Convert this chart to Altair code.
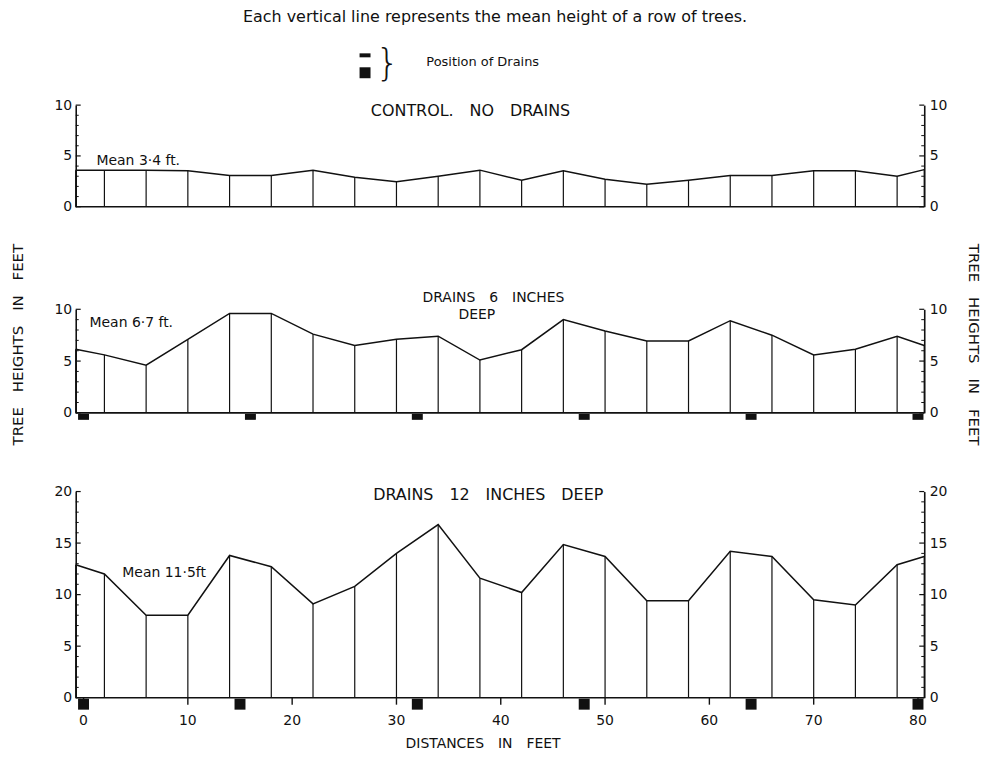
import altair as alt
import pandas as pd

# ---------------- data ----------------
ROW_X = [-0.75, 2, 6, 10, 14, 18, 22, 26, 30, 34, 38, 42, 46, 50, 54, 58,
         62, 66, 70, 74, 78, 80.6]
CONTROL = [3.6, 3.6, 3.6, 3.55, 3.07, 3.07, 3.6, 2.9, 2.45, 3.0, 3.6, 2.6,
           3.55, 2.7, 2.2, 2.6, 3.07, 3.07, 3.55, 3.55, 3.0, 3.65]
SIX_INCH = [6.15, 5.6, 4.6, 7.1, 9.6, 9.6, 7.6, 6.5, 7.1, 7.4, 5.1, 6.1,
            9.0, 7.9, 6.95, 6.95, 8.9, 7.5, 5.6, 6.15, 7.4, 6.5]
TWELVE_INCH = [12.9, 12.0, 8.0, 8.0, 13.8, 12.7, 9.1, 10.8, 14.0, 16.8, 11.6,
               10.2, 14.85, 13.7, 9.4, 9.4, 14.2, 13.7, 9.5, 9.0, 12.9, 13.7]
DRAINS_6 = [0, 16, 32, 48, 64, 80]
DRAINS_12 = [0, 15, 32, 48, 64, 80]
X_TICKS = [0, 10, 20, 30, 40, 50, 60, 70, 80]

SP = "\u2003"  # wide word gap, as in the letter-spaced original
HEADER = "Each vertical line represents the mean height of a row of trees."
LEGEND_TEXT = "Position of Drains"
Y_TITLE = SP.join(["TREE", "HEIGHTS", "IN", "FEET"])
X_TITLE = SP.join(["DISTANCES", "IN", "FEET"])

TITLES_A = [(SP.join(["CONTROL.", "NO", "DRAINS"]), 37.1, 8.95)]
TITLES_B = [(SP.join(["DRAINS", "6", "INCHES"]), 39.3, 10.75),
            ("DEEP", 37.7, 9.1)]
TITLES_C = [(SP.join(["DRAINS", "12", "INCHES", "DEEP"]), 38.8, 19.16)]
MEAN_A = [("Mean 3·4 ft.", 1.24, 4.15)]
MEAN_B = [("Mean 6·7 ft.", 0.57, 8.27)]
MEAN_C = [("Mean 11·5ft", 3.72, 11.74)]

# ---------------- styling ----------------
XMIN, XMAX = -0.75, 80.6
W = 852
FONT = "DejaVu Sans"
INK = "#111111"


def xscale():
    return alt.Scale(domain=[XMIN, XMAX], nice=False, zero=False)


def panel(values, ymax, height, top_pad, titles, mean, title_size=16,
          drains=None, drain_h=0, bottom_axis=False, side_titles=False,
          extra=None):
    def ys():
        return alt.Scale(domain=[0, ymax], range=[height, top_pad],
                         nice=False, zero=True)

    def X(field):
        return alt.X(field, scale=xscale(), axis=None)

    def Y(field):
        return alt.Y(field, scale=ys(), axis=None)

    rows = pd.DataFrame({"x": ROW_X, "y": values})
    ticks = pd.DataFrame({"v": list(range(0, ymax + 1))})
    ticks["major"] = ticks["v"] % 5 == 0
    minor = ticks[~ticks["major"]]
    major = ticks[ticks["major"]]

    yvals = [v for v in [0, 5, 10, 15, 20] if v <= ymax]
    laxis_kw = dict(values=yvals, ticks=False, tickSize=0, grid=False,
                    domainColor=INK, domainWidth=1.6, labelFont=FONT,
                    labelFontSize=14, labelColor=INK)
    if side_titles:
        common = dict(titleFont=FONT, titleFontSize=15,
                      titleFontWeight="normal", titleColor=INK,
                      titleAlign="center", titleBaseline="middle",
                      titleY=59)
        laxis = alt.Axis(orient="left", labelPadding=4, title=Y_TITLE,
                         titleAngle=270, titleX=-58, **common, **laxis_kw)
        raxis = alt.Axis(orient="right", labelPadding=5, title=Y_TITLE,
                         titleAngle=90, titleX=49, **common, **laxis_kw)
    else:
        laxis = alt.Axis(orient="left", labelPadding=4, title=None,
                         **laxis_kw)
        raxis = alt.Axis(orient="right", labelPadding=5, title=None,
                         **laxis_kw)

    # first layer carries the left y axis
    verticals = alt.Chart(rows).mark_rule(color=INK, strokeWidth=1.2).encode(
        x=X("x:Q"),
        y=alt.Y("y:Q", scale=ys(), axis=laxis),
        y2=alt.datum(0),
    )
    base = alt.Chart(pd.DataFrame({"z": [0]})).mark_rule(
        color=INK, strokeWidth=1.6).encode(
        x=alt.value(0), x2=alt.value(W), y=Y("z:Q"))
    line = alt.Chart(rows).mark_line(color=INK, strokeWidth=1.5).encode(
        x=X("x:Q"), y=Y("y:Q"))
    lt_minor = alt.Chart(minor).mark_rule(color=INK, strokeWidth=1).encode(
        x=alt.value(0), x2=alt.value(3), y=Y("v:Q"))
    lt_major = alt.Chart(major).mark_rule(color=INK, strokeWidth=1.2).encode(
        x=alt.value(0), x2=alt.value(5), y=Y("v:Q"))
    rt_minor = alt.Chart(minor).mark_rule(color=INK, strokeWidth=1).encode(
        x=alt.value(W - 3), x2=alt.value(W), y=Y("v:Q"))

    tdf = pd.DataFrame(titles, columns=["t", "x", "y"])
    title_txt = alt.Chart(tdf).mark_text(
        font=FONT, fontSize=title_size, color=INK, align="center",
        baseline="alphabetic").encode(x=X("x:Q"), y=Y("y:Q"), text="t:N")
    mdf = pd.DataFrame(mean, columns=["t", "x", "y"])
    mean_txt = alt.Chart(mdf).mark_text(
        font=FONT, fontSize=14, color=INK, align="left",
        baseline="alphabetic").encode(x=X("x:Q"), y=Y("y:Q"), text="t:N")

    layers = [verticals, base, line, lt_minor, lt_major, rt_minor, title_txt,
              mean_txt]
    if drains is not None:
        ddf = pd.DataFrame({"d": drains, "z": [0] * len(drains)})
        layers.append(alt.Chart(ddf).mark_rect(
            color=INK, width=11, height=drain_h,
            yOffset=drain_h / 2 + 1).encode(x=X("d:Q"), y=Y("z:Q")))
    if bottom_axis:
        xt = pd.DataFrame({"t": X_TICKS})
        layers.append(alt.Chart(xt).mark_rule(
            color=INK, strokeWidth=1.4).encode(
            x=X("t:Q"), y=alt.value(height), y2=alt.value(height + 7)))
        layers.append(alt.Chart(xt).mark_text(
            font=FONT, fontSize=14, color=INK, align="center",
            baseline="top").encode(
            x=X("t:Q"), y=alt.value(height + 16), text="t:Q"))
        layers.append(alt.Chart(pd.DataFrame({"k": [0]})).mark_text(
            font=FONT, fontSize=14, color=INK, align="center",
            baseline="middle", text=X_TITLE).encode(
            x=alt.value(409), y=alt.value(height + 47)))
    if extra:
        layers.extend(extra)

    # last layer carries the right y axis
    right = alt.Chart(major).mark_rule(color=INK, strokeWidth=1.2).encode(
        x=alt.value(W - 5), x2=alt.value(W),
        y=alt.Y("v:Q", scale=ys(), axis=raxis))
    layers.append(right)

    return alt.layer(*layers).resolve_scale(y="independent").properties(
        width=W, height=height)


# legend + header decoration for the top panel (pixel positions)
one = pd.DataFrame({"k": [0]})
header = alt.Chart(one).mark_text(
    font=FONT, fontSize=16, color=INK, align="center", baseline="middle",
    text=HEADER).encode(x=alt.value(421), y=alt.value(-88))
leg_small = alt.Chart(one).mark_rect(color=INK).encode(
    x=alt.value(285), x2=alt.value(296), y=alt.value(-52), y2=alt.value(-48))
leg_big = alt.Chart(one).mark_rect(color=INK).encode(
    x=alt.value(285), x2=alt.value(296), y=alt.value(-38), y2=alt.value(-27))
brace = alt.Chart(one).mark_text(
    font=FONT, fontSize=38, fontWeight=200, color=INK, align="center",
    baseline="middle", text="}").encode(x=alt.value(313), y=alt.value(-41))
leg_text = alt.Chart(one).mark_text(
    font=FONT, fontSize=13, color=INK, align="left", baseline="middle",
    text=LEGEND_TEXT).encode(x=alt.value(352), y=alt.value(-43))

pa = panel(CONTROL, 10, 102, 0, TITLES_A, MEAN_A,
           extra=[header, leg_small, leg_big, brace, leg_text])
pb = panel(SIX_INCH, 10, 128, 24, TITLES_B, MEAN_B, title_size=14,
           drains=DRAINS_6, drain_h=6, side_titles=True)
pc = panel(TWELVE_INCH, 20, 207, 0, TITLES_C, MEAN_C, drains=DRAINS_12,
           drain_h=11, bottom_axis=True)

chart = alt.vconcat(pa, pb, pc, spacing=79, bounds="flush").properties(
    padding={"left": 3, "top": 0, "right": 4, "bottom": 0}
).configure_view(strokeWidth=0)

chart.save("out.html", embed_options={"renderer": "svg", "actions": False})
